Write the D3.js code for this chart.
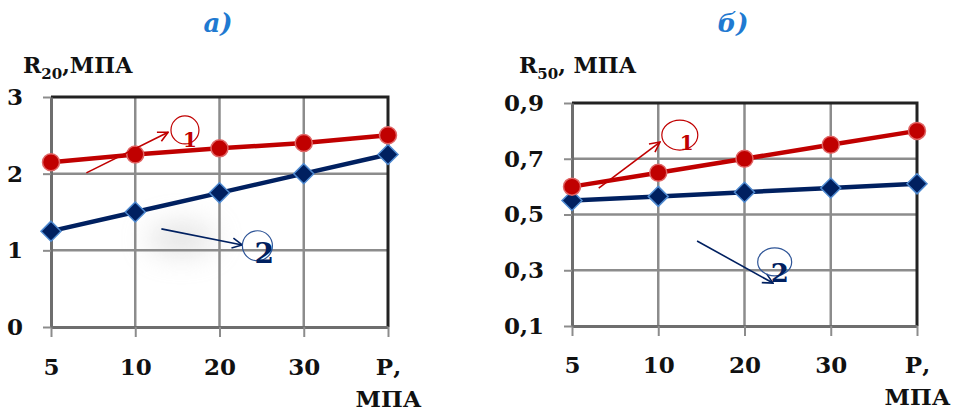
<!DOCTYPE html>
<html>
<head>
<meta charset="utf-8">
<script src="https://cdn.jsdelivr.net/npm/d3@7"></script>
<style>
  body { margin: 0; background: #fff; }
  text { font-family: "DejaVu Serif", serif; font-weight: bold; }
</style>
</head>
<body>
<div id="my_dataviz"></div>
<script>
// chart data
var categories = ["5", "10", "20", "30", "Р,"];
var leftTicks = [0, 1, 2, 3];
var rightTicks = [0.1, 0.3, 0.5, 0.7, 0.9];
var leftCurve1 = [2.15, 2.25, 2.33, 2.4, 2.5];
var leftCurve2 = [1.25, 1.5, 1.75, 2.0, 2.25];
var rightCurve1 = [0.6, 0.65, 0.7, 0.75, 0.8];
var rightCurve2 = [0.55, 0.565, 0.58, 0.595, 0.61];

var red = "#c00000", navy = "#002060";

var svg = d3.select("#my_dataviz")
    .append("svg")
    .attr("width", 953)
    .attr("height", 411);

var defs = svg.append("defs");
defs.append("filter").attr("id", "blur")
    .attr("x", "-100%").attr("y", "-100%")
    .attr("width", "300%").attr("height", "300%")
    .append("feGaussianBlur").attr("stdDeviation", 14);

[red, navy].forEach(function (c, i) {
    defs.append("marker")
        .attr("id", "arrow" + i)
        .attr("viewBox", "0 0 12 12")
        .attr("refX", 11).attr("refY", 6)
        .attr("markerWidth", 12).attr("markerHeight", 12)
        .attr("markerUnits", "userSpaceOnUse")
        .attr("orient", "auto")
        .append("path")
        .attr("d", "M1,1 L11,6 L1,11")
        .attr("fill", "none")
        .attr("stroke", c)
        .attr("stroke-width", 1.6);
});

function drawPanel(p) {
    var g = svg.append("g");

    var x = d3.scalePoint().domain(categories).range(p.xRange);
    var y = d3.scaleLinear().domain(p.yDomain).range(p.yRange);
    // fractional category position, for the hand drawn labels
    var xi = function (i) { return p.xRange[0] + i * x.step(); };

    // title
    g.append("text")
        .attr("x", p.titleX).attr("y", 32)
        .attr("text-anchor", "middle")
        .attr("fill", "#1f7ad1")
        .style("font-style", "italic")
        .style("font-size", "26px")
        .text(p.title);

    // y axis title
    var yt = g.append("text")
        .attr("x", p.labelX).attr("y", 73)
        .style("font-size", "22px")
        .attr("fill", "#111");
    yt.append("tspan").text("R");
    yt.append("tspan").attr("dy", 6).style("font-size", "15px").text(p.sub);
    yt.append("tspan").attr("dy", -6).text(p.unit);

    if (p.shadow) {
        g.append("ellipse")
            .attr("cx", xi(p.shadow[0])).attr("cy", y(p.shadow[1]))
            .attr("rx", 34).attr("ry", 16)
            .attr("fill", "#c8c8c8")
            .attr("opacity", 0.5)
            .attr("filter", "url(#blur)");
    }

    // grid
    g.selectAll(".hgrid")
        .data(p.ticks.slice(1, -1))
        .enter().append("line")
        .attr("x1", p.xRange[0]).attr("x2", p.xRange[1])
        .attr("y1", function (d) { return y(d); })
        .attr("y2", function (d) { return y(d); })
        .attr("stroke", "#8c8c8c")
        .attr("stroke-width", 2.5);

    g.selectAll(".vgrid")
        .data(categories.slice(1, -1))
        .enter().append("line")
        .attr("x1", function (d) { return x(d); })
        .attr("x2", function (d) { return x(d); })
        .attr("y1", p.yRange[0]).attr("y2", p.yRange[1])
        .attr("stroke", "#8c8c8c")
        .attr("stroke-width", 2.5);

    // top and right border
    g.append("path")
        .attr("d", "M" + p.xRange[0] + "," + p.yRange[1] +
            "H" + p.xRange[1] + "V" + p.yRange[0])
        .attr("fill", "none")
        .attr("stroke", "#222")
        .attr("stroke-width", 3);

    // Add X axis
    var xAxis = g.append("g")
        .attr("transform", "translate(0," + p.yRange[0] + ")")
        .call(d3.axisBottom(x).tickSize(10).tickSizeOuter(0));
    xAxis.select(".domain").attr("stroke", "#6e6e6e").attr("stroke-width", 3);
    xAxis.selectAll(".tick line").attr("stroke", "#8c8c8c").attr("stroke-width", 2);
    xAxis.selectAll(".tick text")
        .attr("y", p.xLabelY).attr("dy", 0)
        .attr("fill", "#111")
        .style("font-family", "DejaVu Serif, serif")
        .style("font-size", "23px");
    xAxis.selectAll(".tick").filter(function (d) { return d === "Р,"; })
        .append("text")
        .attr("y", p.xLabelY + 32)
        .attr("fill", "#111")
        .attr("text-anchor", "middle")
        .style("font-family", "DejaVu Serif, serif")
        .style("font-size", "23px")
        .text("МПА");

    // Add Y axis
    var yAxis = g.append("g")
        .attr("transform", "translate(" + p.xRange[0] + ",0)")
        .call(d3.axisLeft(y).tickValues(p.ticks).tickSize(8).tickPadding(20)
            .tickSizeOuter(0)
            .tickFormat(function (d) { return p.fmt(d).replace(".", ","); }));
    yAxis.select(".domain").attr("stroke", "#6e6e6e").attr("stroke-width", 3);
    yAxis.selectAll(".tick line").attr("stroke", "#8c8c8c").attr("stroke-width", 2);
    yAxis.selectAll(".tick text")
        .attr("fill", "#111")
        .style("font-family", "DejaVu Serif, serif")
        .style("font-size", "23px");

    var line = d3.line()
        .x(function (d, i) { return x(categories[i]); })
        .y(function (d) { return y(d); });

    // curve 2, navy diamonds
    g.append("path")
        .datum(p.curve2)
        .attr("fill", "none")
        .attr("stroke", navy)
        .attr("stroke-width", 4.5)
        .attr("d", line);
    g.selectAll(".dia")
        .data(p.curve2)
        .enter().append("path")
        .attr("d", "M0,-10L10,0L0,10L-10,0Z")
        .attr("transform", function (d, i) {
            return "translate(" + x(categories[i]) + "," + y(d) + ")";
        })
        .attr("fill", navy)
        .attr("stroke", "#4f8ad0")
        .attr("stroke-width", 1.5);

    // curve 1, red circles
    g.append("path")
        .datum(p.curve1)
        .attr("fill", "none")
        .attr("stroke", red)
        .attr("stroke-width", 4.5)
        .attr("d", line);
    g.selectAll(".dot")
        .data(p.curve1)
        .enter().append("circle")
        .attr("cx", function (d, i) { return x(categories[i]); })
        .attr("cy", function (d) { return y(d); })
        .attr("r", 8.5)
        .attr("fill", red)
        .attr("stroke", "#e06666")
        .attr("stroke-width", 1.5);

    // hand drawn callouts
    p.notes.forEach(function (n, k) {
        var c = k === 0 ? red : navy;
        g.append("line")
            .attr("x1", xi(n.from[0])).attr("y1", y(n.from[1]))
            .attr("x2", xi(n.to[0])).attr("y2", y(n.to[1]))
            .attr("stroke", c)
            .attr("stroke-width", 1.6)
            .attr("marker-end", "url(#arrow" + k + ")");
        g.append("ellipse")
            .attr("cx", xi(n.ring[0])).attr("cy", y(n.ring[1]))
            .attr("rx", n.rx).attr("ry", n.ry)
            .attr("fill", "none")
            .attr("stroke", k === 0 ? red : "#2f5597")
            .attr("stroke-width", 1.2);
        g.append("text")
            .attr("x", xi(n.text[0])).attr("y", y(n.text[1]))
            .attr("text-anchor", "middle")
            .attr("fill", c)
            .style("font-size", n.size + "px")
            .text(n.label);
    });
}

drawPanel({
    title: "а)", titleX: 218, labelX: 23, sub: "20", unit: ",МПА",
    xRange: [51, 388], yRange: [327, 97], yDomain: [0, 3],
    ticks: leftTicks, fmt: d3.format("d"), xLabelY: 48,
    curve1: leftCurve1, curve2: leftCurve2,
    shadow: [1.55, 1.15],
    notes: [
        {from: [0.42, 2.01], to: [1.39, 2.54], ring: [1.59, 2.57], rx: 14, ry: 14,
            text: [1.65, 2.35], size: 20, label: "1"},
        {from: [1.31, 1.28], to: [2.27, 1.07], ring: [2.45, 1.06], rx: 15, ry: 15,
            text: [2.53, 0.84], size: 28, label: "2"}
    ]
});

drawPanel({
    title: "б)", titleX: 733, labelX: 519, sub: "50", unit: ", МПА",
    xRange: [572, 917], yRange: [326, 103], yDomain: [0.1, 0.9],
    ticks: rightTicks, fmt: d3.format(".1f"), xLabelY: 47,
    curve1: rightCurve1, curve2: rightCurve2,
    notes: [
        {from: [0.31, 0.595], to: [1.02, 0.76], ring: [1.25, 0.785], rx: 18, ry: 15,
            text: [1.33, 0.73], size: 20, label: "1"},
        {from: [1.45, 0.405], to: [2.33, 0.254], ring: [2.35, 0.33], rx: 17, ry: 14,
            text: [2.41, 0.258], size: 26, label: "2"}
    ]
});
</script>
</body>
</html>
